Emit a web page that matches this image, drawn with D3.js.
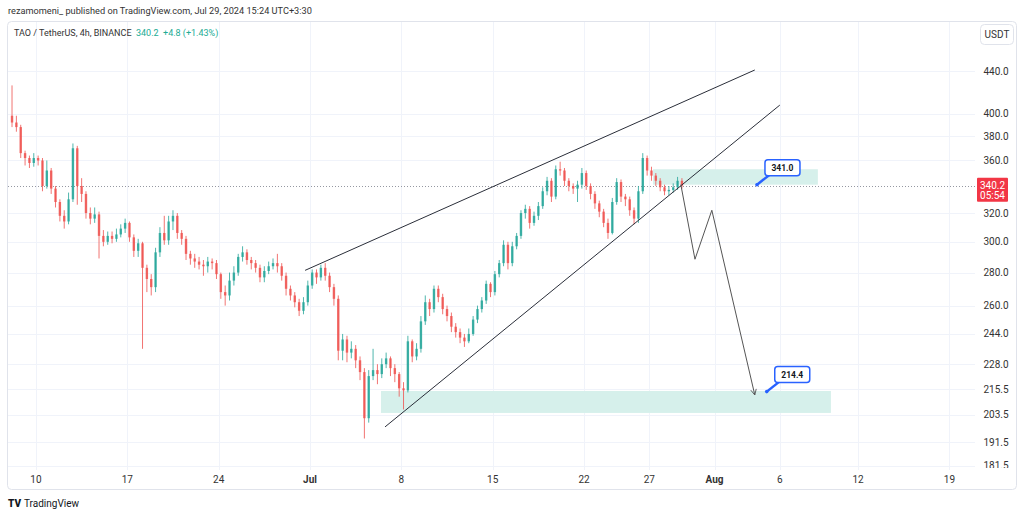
<!DOCTYPE html>
<html><head><meta charset="utf-8">
<script src="https://cdn.jsdelivr.net/npm/d3@7"></script>
<style>body{margin:0;background:#fff;} svg{display:block;font-family:Roboto,"Liberation Sans",sans-serif;}</style>
</head><body><svg id="c" width="1024" height="516"></svg>
<script>
// ---------- DATA ----------
const firstOpenTime = "2024-06-08T00:00Z";
const candleHours = 8;
const firstOpen = 398;
const closes = [392,388,366,362,358,362,360,340,352,338, 328,318,314,330,370,340,334,320,316,319,
  304,300,304,302,305,309,313,303,294,299, 283,276,271,293,306,301,314,318,306,302,
  292,289,287,285,284,287,286,279,268,266, 275,280,290,293,288,286,283,277,281,284,
  286,284,278,270,266,262,257,262,272,280, 277,283,278,271,264,235,241,234,236,230,
  224,202,222,225,223,228,231,226,223,216, 215,240,232,236,251,262,258,270,265,258,
  254,248,245,242,240,244,252,258,263,273, 268,279,286,298,286,297,304,320,323,313,
  318,325,336,344,332,353,352,344,340,338, 341,350,340,334,327,321,313,306,328,343,
  332,330,322,316,336,362,352,348,344,339, 336,337,339,344,340.2];
const highs = [426,398,390,368,364,366,364,362,360,354, 340,330,322,335,374,372,346,336,324,324,
  321,308,307,307,309,312,316,314,305,302, 300,285,279,296,310,318,318,322,320,308,
  304,294,292,290,288,290,289,288,280,272, 280,284,292,297,295,290,288,285,284,287,
  289,292,286,280,272,268,264,265,275,282, 282,285,286,280,273,266,244,243,240,238,
  232,226,225,236,228,231,234,232,228,224, 219,243,241,239,254,266,264,272,272,267,
  260,256,250,247,244,247,254,260,265,275, 274,281,288,301,300,300,306,322,326,325,
  321,328,339,347,346,356,359,354,346,342, 344,354,352,342,336,329,323,316,331,346,
  345,334,332,324,340,366,364,355,350,346, 341,340,342,347,346];
const lows = [388,384,362,356,354,355,356,336,338,334, 324,314,309,312,328,326,328,316,312,313,
  289,297,298,299,300,303,306,300,290,290, 236,268,266,268,290,298,298,308,302,298,
  288,285,283,282,278,280,282,276,264,260, 263,272,278,287,285,282,280,274,274,279,
  282,280,275,266,263,259,254,255,260,270, 273,275,275,268,260,230,230,229,231,226,
  220,193,200,220,218,221,226,222,219,212, 206,214,229,230,234,249,254,256,262,255,
  251,245,242,239,237,239,243,250,256,261, 265,266,277,284,282,284,295,302,316,309,
  311,315,323,333,328,330,348,340,336,334, 328,338,337,330,323,317,310,302,305,326,
  328,325,318,312,313,334,348,344,340,336, 333,333,335,337,338];

const dateTicks = ["2024-06-10","2024-06-17","2024-06-24","2024-07-01","2024-07-08","2024-07-15",
  "2024-07-22","2024-07-27","2024-08-01","2024-08-06","2024-08-12","2024-08-19"];
const dateTickLabels = ["10","17","24","Jul","8","15","22","27","Aug","6","12","19"];
const boldTickLabels = ["Jul","Aug"];
const priceTicks = [440,400,380,360,320,300,280,260,244,228,215.5,203.5,191.5,181.5];
const lastPrice = 340.2;
const lastPriceLabel = ["340.2","05:54"];

const upperTrend = [["2024-06-30T15:00Z",281.4],["2024-08-04T02:00Z",441]];
const lowerTrend = [["2024-07-06T18:00Z",198.1],["2024-08-06T00:00Z",407.6]];
const projection = [["2024-07-29T10:00Z",341],["2024-07-30T12:00Z",288.5],["2024-07-31T19:00Z",322],["2024-08-04T02:00Z",212.8]];
const zones = [
  {t0:"2024-07-27T07:00Z", t1:"2024-08-08T22:00Z", p0:341, p1:353},
  {t0:"2024-07-06T10:30Z", t1:"2024-08-09T22:00Z", p0:204.4, p1:214.7}];
const callouts = [
  {t:"2024-08-04T06:00Z", p:341.0, label:"341.0"},
  {t:"2024-08-05T00:00Z", p:214.4, label:"214.4"}];

const headerText = "rezamomeni_ published on TradingView.com, Jul 29, 2024 15:24 UTC+3:30";
const symbolText = "TAO / TetherUS, 4h, BINANCE";
const quoteText = "340.2  +4.8 (+1.43%)";

// ---------- LAYOUT ----------
const svg = d3.select("#c");
const plot = {l:8, r:975, t:22, b:470};
const x = d3.scaleUtc()
  .domain([new Date("2024-06-01T00:00Z"), new Date("2024-09-01T00:00Z")])
  .range([-81.5, 1119.1]);
const y = d3.scaleLog().domain([191.5, 440]).range([442, 71]);
const pd = s => new Date(s);

const up = "#26a69a", down = "#ef5350";

// frame
svg.append("rect").attr("x",7.5).attr("y",21.5).attr("width",1009).attr("height",468)
  .attr("rx",4).attr("fill","#fff").attr("stroke","#e0e3eb");

const defs = svg.append("defs");
defs.append("clipPath").attr("id","clip")
  .append("rect").attr("x",plot.l).attr("y",plot.t).attr("width",plot.r-plot.l).attr("height",plot.b-plot.t);
defs.append("clipPath").attr("id","clipAxis")
  .append("rect").attr("x",plot.r).attr("y",plot.t).attr("width",45).attr("height",plot.b-plot.t-2);
defs.append("marker").attr("id","arr").attr("viewBox","0 0 10 10")
  .attr("refX",9).attr("refY",5).attr("markerWidth",7).attr("markerHeight",7).attr("orient","auto")
  .append("path").attr("d","M1,1 L9,5 L1,9").attr("fill","none").attr("stroke","#555").attr("stroke-width",1.2);

const g = svg.append("g").attr("clip-path","url(#clip)");

// grid
g.selectAll("line.hg").data(priceTicks).join("line")
  .attr("x1",plot.l).attr("x2",plot.r).attr("y1",d=>Math.round(y(d))+0.5).attr("y2",d=>Math.round(y(d))+0.5)
  .attr("stroke","#f0f3fa");
g.selectAll("line.vg").data(dateTicks).join("line")
  .attr("y1",plot.t).attr("y2",plot.b).attr("x1",d=>Math.round(x(pd(d+"T00:00Z")))+0.5).attr("x2",d=>Math.round(x(pd(d+"T00:00Z")))+0.5)
  .attr("stroke","#f0f3fa");

// zones
g.selectAll("rect.zone").data(zones).join("rect")
  .attr("x",d=>x(pd(d.t0))).attr("width",d=>x(pd(d.t1))-x(pd(d.t0)))
  .attr("y",d=>y(d.p1)).attr("height",d=>y(d.p0)-y(d.p1))
  .attr("fill","#d6f0eb");

// last price dotted line
g.append("line").attr("x1",plot.l).attr("x2",plot.r)
  .attr("y1",Math.round(y(lastPrice))+0.5).attr("y2",Math.round(y(lastPrice))+0.5)
  .attr("stroke","#9598a1").attr("stroke-dasharray","1,2");

// candles
const t0 = pd(firstOpenTime).getTime();
const candles = closes.map((c,i)=>({
  t: new Date(t0 + (i*candleHours + candleHours/2)*3600e3),
  o: i===0 ? firstOpen : closes[i-1], c, h: highs[i], l: lows[i]}));
const bw = (x(new Date(t0+candleHours*3600e3)) - x(new Date(t0))) * 0.55;
const cg = g.append("g");
cg.selectAll("line").data(candles).join("line")
  .attr("x1",d=>x(d.t)).attr("x2",d=>x(d.t))
  .attr("y1",d=>y(Math.max(d.h,d.o,d.c))).attr("y2",d=>y(Math.min(d.l,d.o,d.c)))
  .attr("stroke",d=>d.c>=d.o?up:down).attr("stroke-width",1).attr("opacity",0.8);
cg.selectAll("rect").data(candles).join("rect")
  .attr("x",d=>x(d.t)-bw/2).attr("width",bw)
  .attr("y",d=>y(Math.max(d.o,d.c)))
  .attr("height",d=>Math.max(1,Math.abs(y(d.o)-y(d.c))))
  .attr("fill",d=>d.c>=d.o?up:down).attr("opacity",0.85);

// trend lines
const lineGen = d3.line().x(d=>x(pd(d[0]))).y(d=>y(d[1]));
g.append("path").attr("d",lineGen(upperTrend)).attr("stroke","#2a2e39").attr("stroke-width",1).attr("fill","none");
g.append("path").attr("d",lineGen(lowerTrend)).attr("stroke","#2a2e39").attr("stroke-width",1).attr("fill","none");
g.append("path").attr("d",lineGen(projection)).attr("stroke","#555").attr("stroke-width",1).attr("fill","none")
  .attr("marker-end","url(#arr)");

// callouts
callouts.forEach(c=>{
  const tx = x(pd(c.t)), ty = y(c.p);
  const bx = tx+8, by = ty-25, w = 35, h = 16;
  g.append("line").attr("x1",tx).attr("y1",ty).attr("x2",bx+6).attr("y2",by+h-2)
    .attr("stroke","#2962ff").attr("stroke-width",2.5);
  g.append("circle").attr("cx",tx).attr("cy",ty).attr("r",1.8).attr("fill","#2962ff");
  g.append("rect").attr("x",bx).attr("y",by).attr("width",w).attr("height",h).attr("rx",3)
    .attr("fill","#fff").attr("stroke","#2962ff").attr("stroke-width",1.5);
  g.append("text").attr("x",bx+w/2).attr("y",by+h/2+3).attr("text-anchor","middle")
    .attr("font-size",8.5).attr("font-weight","bold").attr("fill","#131722").text(c.label);
});

// price axis
svg.append("g").attr("clip-path","url(#clipAxis)")
  .selectAll("text").data(priceTicks).join("text")
  .attr("x",996).attr("y",d=>y(d)+3.5).attr("text-anchor","middle")
  .attr("font-size",10).attr("fill","#333").text(d=>d3.format(".1f")(d));
svg.append("rect").attr("x",980.5).attr("y",24.5).attr("width",33).attr("height",20).attr("rx",4)
  .attr("fill","#fff").attr("stroke","#e0e3eb");
svg.append("text").attr("x",997).attr("y",38).attr("text-anchor","middle").attr("font-size",10).attr("fill","#333").text("USDT");
const ly = y(lastPrice);
svg.append("rect").attr("x",977).attr("y",ly-8).attr("width",31).attr("height",24).attr("fill","#f23645").attr("rx",1);
svg.append("text").attr("x",992.5).attr("y",ly+3.5).attr("text-anchor","middle").attr("font-size",10).attr("fill","#fff").text(lastPriceLabel[0]);
svg.append("text").attr("x",992.5).attr("y",ly+13.5).attr("text-anchor","middle").attr("font-size",10).attr("fill","#fff").text(lastPriceLabel[1]);

// time axis
svg.selectAll("text.xl").data(dateTicks).join("text")
  .attr("x",d=>x(pd(d+"T00:00Z"))).attr("y",483).attr("text-anchor","middle")
  .attr("font-size",10).attr("fill","#333")
  .attr("font-weight",(d,i)=>boldTickLabels.includes(dateTickLabels[i])?"bold":"normal")
  .text((d,i)=>dateTickLabels[i]);

// header texts
svg.append("text").attr("x",8).attr("y",14).attr("font-size",9.2).attr("fill","#333").text(headerText);
const st = svg.append("text").attr("x",14).attr("y",36).attr("font-size",9).attr("xml:space","preserve");
st.append("tspan").attr("fill","#333").text(symbolText + "  ");
st.append("tspan").attr("fill","#22ab94").text(quoteText);

// footer logo
svg.append("text").attr("x",8).attr("y",507).attr("font-size",10).attr("font-weight",900).attr("fill","#131722").text("TV");
svg.append("text").attr("x",24).attr("y",507).attr("font-size",10).attr("fill","#131722").text("TradingView");
</script></body></html>
